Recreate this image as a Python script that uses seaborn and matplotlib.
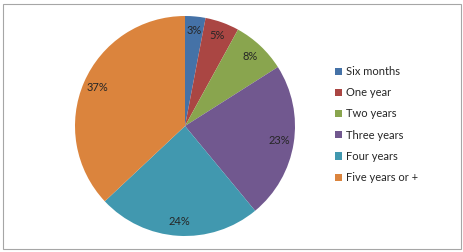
import matplotlib
matplotlib.use("Agg")
import matplotlib.pyplot as plt
import seaborn as sns
from matplotlib.patches import Rectangle, Patch

categories = ["Six months", "One year", "Two years", "Three years", "Four years", "Five years or +"]
values = [3, 5, 8, 23, 24, 37]
labels = ["3%", "5%", "8%", "23%", "24%", "37%"]
colors = ["#4572A7", "#AA4643", "#89A54E", "#71588F", "#4198AF", "#DB843D"]

sns.set_theme(style="white")
plt.rcParams["font.family"] = ["Lato", "DejaVu Sans"]

fig = plt.figure(figsize=(4.64, 2.52), dpi=100)
fig.patch.set_facecolor("white")

ax = fig.add_axes([75 / 464, 16 / 252, 220 / 464, 220 / 252])
palette = sns.color_palette(colors)
wedges, texts = ax.pie(values, colors=palette, startangle=90, counterclock=False,
                       labels=labels, labeldistance=0.87,
                       wedgeprops=dict(linewidth=0), radius=1)
for t in texts:
    t.set_fontsize(8)
    t.set_color("#262626")
    t.set_ha("center")
    t.set_va("center")
ax.set_xlim(-1, 1)
ax.set_ylim(-1, 1)
ax.set_aspect("equal")
ax.axis("off")

handles = [Patch(facecolor=c, edgecolor="none") for c in palette]
leg = fig.legend(handles, categories, loc="upper left", bbox_to_anchor=(335 / 464, 1 - 66 / 252),
                 frameon=False, fontsize=8, handlelength=0.6, handleheight=0.6,
                 handletextpad=0.4, labelspacing=0.92, borderaxespad=0, borderpad=0)
for t in leg.get_texts():
    t.set_color("#262626")

fig.patches.append(Rectangle((3 / 464, 3 / 252), 458 / 464, 245 / 252, transform=fig.transFigure,
                             fill=False, edgecolor="#A6A6A6", linewidth=0.8))

fig.savefig("out.png", dpi=100)
